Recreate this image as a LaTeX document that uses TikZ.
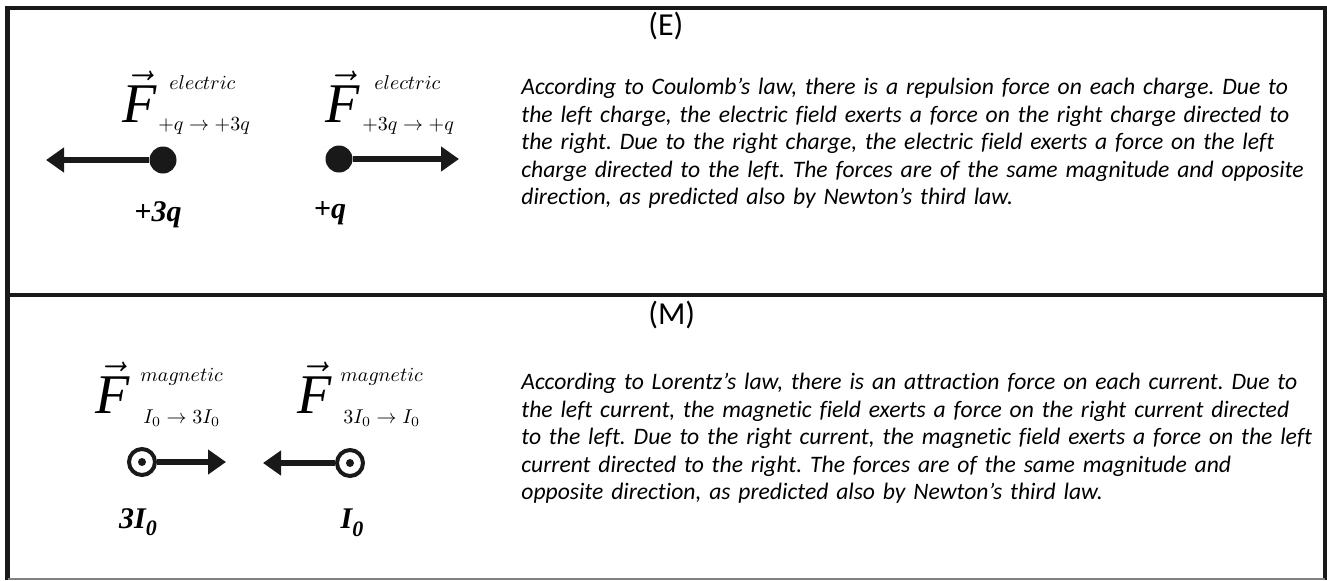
\documentclass[tikz,border=0pt]{standalone}
\usepackage{amsmath}
\usepackage{fontspec}
\setmainfont[Ligatures=NoCommon]{Carlito}
\newfontfamily\serifface{Liberation Serif}
\usetikzlibrary{arrows.meta}

\newcommand{\Fvec}{\fontsize{28}{28}\selectfont$\vec{\mbox{\serifface\itshape F}}$}

\begin{document}
\frenchspacing
\begin{tikzpicture}[x=0.5pt, y=-0.5pt,
    frame/.style={line width=2.2pt, black!90},
    charge/.style={circle, fill=black!90, inner sep=0pt, minimum size=13.5pt},
    current/.style={circle, draw=black!90, line width=2pt, inner sep=0pt, minimum size=13pt},
    force/.style={line width=2.8pt, black!90, -{Triangle[length=9pt, width=12pt]}},
    fsym/.style={anchor=base, inner sep=0pt},
    fidx/.style={anchor=base west, inner sep=0pt, font=\fontsize{10}{10}\selectfont},
    qlabel/.style={inner sep=0pt, font=\serifface\bfseries\itshape\fontsize{15}{15}\selectfont},
    title/.style={anchor=west, inner sep=0pt, font=\fontsize{16}{16}\selectfont},
    bodytext/.style={anchor=north west, inner sep=0pt, align=left, text width=420pt,
        font=\fontsize{11.8}{13.75}\selectfont\itshape}]
    \useasboundingbox (0,0) rectangle (1327,580);

    % 1. frame and divider
    \draw[frame] (7.5,580) -- (7.5,8) -- (1325,8) -- (1325,580);
    \draw[frame] (7.5,295) -- (1325,295);
    \draw[gray, line width=0.6pt] (7.5,579) -- (1325,579);

    % 2. electric case: force symbols
    \node[fsym] (fel) at (140,122) {\Fvec};
    \node[fidx] (felsup) at (169,89) {$electric$};
    \node[fidx] (felsub) at (158,130) {$+q \rightarrow +3q$};
    \node[fsym] (fer) at (343,122) {\Fvec};
    \node[fidx] (fersup) at (374,89) {$electric$};
    \node[fidx] (fersub) at (362,130) {$+3q \rightarrow +q$};

    % charges and their forces (repulsion)
    \node[charge] (q3) at (163,160) {};
    \node[charge] (q1) at (339,159) {};
    \coordinate (q3tip) at (46,160);
    \coordinate (q1tip) at (459,159);
    \draw[force] (q3) -- (q3tip);
    \draw[force] (q1) -- (q1tip);
    \node[qlabel] (q3lbl) at (158,215) {+3q};
    \node[qlabel] (q1lbl) at (330,213) {+q};

    % 3. magnetic case: force symbols
    \node[fsym] (fml) at (113,413) {\Fvec};
    \node[fidx] (fmlsup) at (140,381) {$magnetic$};
    \node[fidx] (fmlsub) at (143,423) {$I_0 \rightarrow 3I_0$};
    \node[fsym] (fmr) at (315,413) {\Fvec};
    \node[fidx] (fmrsup) at (340,381) {$magnetic$};
    \node[fidx] (fmrsub) at (343,423) {$3I_0 \rightarrow I_0$};

    % currents out of the page and their forces (attraction)
    \node[current] (i3) at (142,462) {};
    \node[current] (i1) at (350,463) {};
    \fill[black!90] (i3.center) circle (2pt);
    \fill[black!90] (i1.center) circle (2pt);
    \coordinate (i3tip) at (226,462);
    \coordinate (i1tip) at (263,463);
    \draw[force] (i3) -- (i3tip);
    \draw[force] (i1) -- (i1tip);
    \node[qlabel] (i3lbl) at (138,522) {3I\raisebox{-0.25em}{\fontsize{11}{11}\selectfont 0}};
    \node[qlabel] (i1lbl) at (352,523) {I\raisebox{-0.25em}{\fontsize{11}{11}\selectfont 0}};

    % 4. titles and explanations
    \node[title] (etitle) at (648,26) {(E)};
    \node[bodytext] (etext) at (521,78) {According to Coulomb’s law, there is a repulsion force on each charge. Due to\\
        the left charge, the electric field exerts a force on the right charge directed to\\
        the right. Due to the right charge, the electric field exerts a force on the left\\
        charge directed to the left. The forces are of the same magnitude and opposite\\
        direction, as predicted also by Newton’s third law.};
    \node[title] (mtitle) at (648,315) {(M)};
    \node[bodytext] (mtext) at (521,373) {According to Lorentz’s law, there is an attraction force on each current. Due to\\
        the left current, the magnetic field exerts a force on the right current directed\\
        to the left. Due to the right current, the magnetic field exerts a force on the left\\
        current directed to the right. The forces are of the same magnitude and\\
        opposite direction, as predicted also by Newton’s third law.};
\end{tikzpicture}
\end{document}
